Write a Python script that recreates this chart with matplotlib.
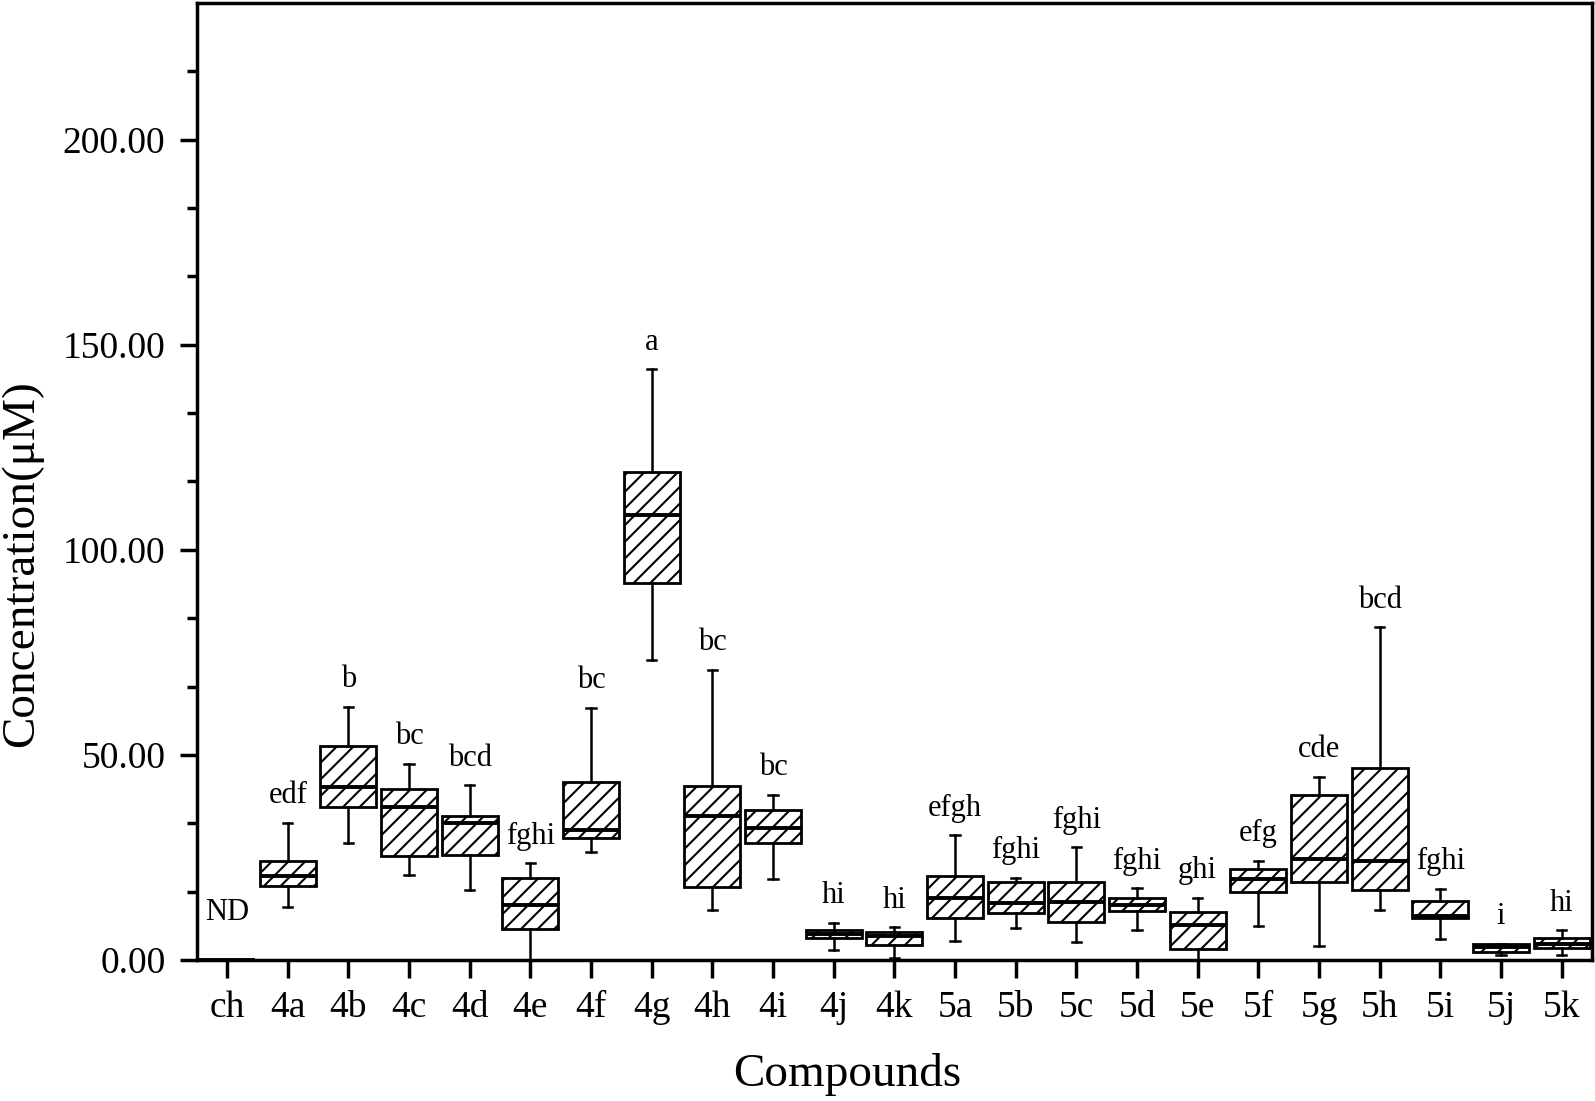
import matplotlib
matplotlib.use("Agg")
import matplotlib.pyplot as plt
from matplotlib.ticker import AutoMinorLocator, FormatStrFormatter

# ---- data ----
compounds = ["ch", "4a", "4b", "4c", "4d", "4e", "4f", "4g", "4h", "4i", "4j", "4k",
             "5a", "5b", "5c", "5d", "5e", "5f", "5g", "5h", "5i", "5j", "5k"]
whisker_low = [0.0, 12.9, 28.5, 20.7, 17.1, 0.0, 26.4, 73.1, 12.2, 19.7, 2.4, 0.5,
               4.6, 7.9, 4.3, 7.3, 0.0, 8.4, 3.3, 12.3, 5.1, 1.2, 1.2]
q1 = [0.0, 18.1, 37.3, 25.4, 25.5, 7.5, 29.7, 92.0, 17.7, 28.5, 5.3, 3.7,
      10.2, 11.5, 9.2, 12.0, 2.7, 16.6, 19.0, 17.1, 10.2, 1.9, 2.9]
median = [0.0, 20.5, 42.1, 37.4, 33.5, 13.4, 31.7, 108.4, 35.2, 32.1, 6.3, 5.9,
          15.2, 14.0, 14.2, 13.4, 8.6, 19.8, 24.6, 24.2, 10.7, 3.1, 3.9]
q3 = [0.0, 24.2, 52.1, 41.8, 35.2, 19.9, 43.5, 119.1, 42.5, 36.6, 7.2, 6.9,
      20.4, 19.0, 19.1, 15.2, 11.7, 22.3, 40.2, 46.8, 14.3, 3.9, 5.3]
whisker_high = [0.0, 33.4, 61.7, 47.8, 42.6, 23.6, 61.4, 144.0, 70.8, 40.3, 9.0, 8.0,
                30.4, 20.1, 27.5, 17.5, 15.1, 24.2, 44.7, 81.1, 17.4, 3.9, 7.2]
groups = ["ND", "edf", "b", "bc", "bcd", "fghi", "bc", "a", "bc", "bc", "hi", "hi",
          "efgh", "fghi", "fghi", "fghi", "ghi", "efg", "cde", "bcd", "fghi", "i", "hi"]
y_ticks = [0, 50, 100, 150, 200]

plt.rcParams["font.family"] = ["Liberation Serif", "DejaVu Serif"]
plt.rcParams["hatch.linewidth"] = 1.5
plt.rcParams["hatch.color"] = "black"

fig = plt.figure(figsize=(15.95, 11.01), dpi=100)
ax = fig.add_axes([196.7 / 1595, 1 - 960 / 1101, (1592 - 196.7) / 1595, (960 - 3) / 1101])

stats = []
for i, name in enumerate(compounds):
    stats.append(dict(label=name, med=median[i], q1=q1[i], q3=q3[i],
                      whislo=whisker_low[i], whishi=whisker_high[i], fliers=[]))

positions = list(range(len(compounds)))
bp = ax.bxp(stats, positions=positions, widths=0.92, capwidths=0.15,
            patch_artist=True, showfliers=False,
            boxprops=dict(facecolor="white", edgecolor="black", linewidth=2.0, hatch="//"),
            medianprops=dict(color="black", linewidth=2.8),
            whiskerprops=dict(color="black", linewidth=1.8),
            capprops=dict(color="black", linewidth=1.8))

# group letters
for i, g in enumerate(groups):
    if g == "ND":
        ax.text(positions[i], 9.8, g, ha="center", va="baseline", fontsize=22)
    else:
        ax.text(positions[i], whisker_high[i] + 4.8, g, ha="center", va="baseline", fontsize=22)

ax.set_xlim(-0.5, len(compounds) - 0.5)
ax.set_ylim(0, 233.33)
ax.set_xticks(positions)
ax.set_xticklabels(compounds)
ax.set_yticks(y_ticks)
ax.yaxis.set_major_formatter(FormatStrFormatter("%.2f"))
ax.yaxis.set_minor_locator(AutoMinorLocator(3))

for sp in ax.spines.values():
    sp.set_linewidth(2.5)

ax.tick_params(axis="both", which="major", direction="out", width=2.5, labelsize=27)
ax.tick_params(axis="y", which="major", length=12.5, pad=10)
ax.tick_params(axis="x", which="major", length=13, pad=9)
ax.tick_params(axis="y", which="minor", direction="out", length=7.5, width=2.5)
ax.tick_params(top=False, right=False)

ax.set_xlabel("Compounds", fontsize=34, labelpad=20)
ax.set_ylabel("Concentration(μM)", fontsize=34, labelpad=14)
ax.xaxis.label.set_x((847 - 196.7) / 1395)
ax.yaxis.label.set_y((960 - 564) / 957)

fig.savefig("out.png", dpi=100)
